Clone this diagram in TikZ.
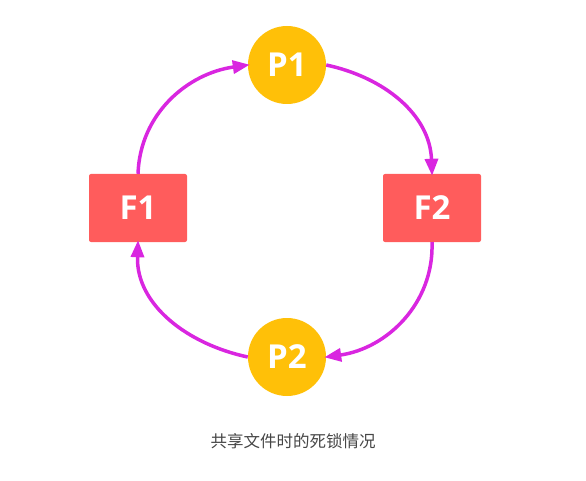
\documentclass[tikz,border=0pt]{standalone}
\usepackage{fontspec}
\setsansfont{Open Sans}
\newfontfamily\cjk{Noto Sans CJK SC}
\usetikzlibrary{arrows.meta}
\definecolor{lockpink}{RGB}{217,38,224}
\definecolor{procyellow}{RGB}{255,192,8}
\definecolor{filered}{RGB}{255,92,92}
\definecolor{captiongray}{RGB}{70,70,70}
\tikzset{
    proc/.style={circle,fill=procyellow,minimum size=78pt,inner sep=0pt,text=white,font=\sffamily\bfseries\fontsize{33}{33}\selectfont},
    file/.style={rectangle,rounded corners=2pt,fill=filered,minimum width=98pt,minimum height=68pt,inner sep=0pt,text=white,font=\sffamily\bfseries\fontsize{33}{33}\selectfont},
    hold/.style={lockpink,line width=3.5pt,-{Triangle[length=17pt,width=13pt]},shorten >=-2pt}
}
\begin{document}
\begin{tikzpicture}[x=1pt,y=-1pt]
        \useasboundingbox (0,0) rectangle (586,481);
        %% Processes
        \node[proc] (p1) at (287,65) {P1};
        \node[proc] (p2) at (287,357) {P2};
        %% Files
        \node[file] (f1) at (138,208) {F1};
        \node[file] (f2) at (432,208) {F2};
        %% Waiting cycle
        \draw[hold] (p1.east) to[out=-12,in=92] (f2.north);
        \draw[hold] (f2.south) to[out=-88,in=8] (p2.east);
        \draw[hold] (p2.west) to[out=168,in=-92] (f1.south);
        \draw[hold] (f1.north) to[out=88,in=188] (p1.west);
        %% Caption
        \node[text=captiongray,font=\cjk\fontsize{16.5}{16.5}\selectfont] (cap) at (293,441) {共享文件时的死锁情况};
    \end{tikzpicture}
\end{document}
